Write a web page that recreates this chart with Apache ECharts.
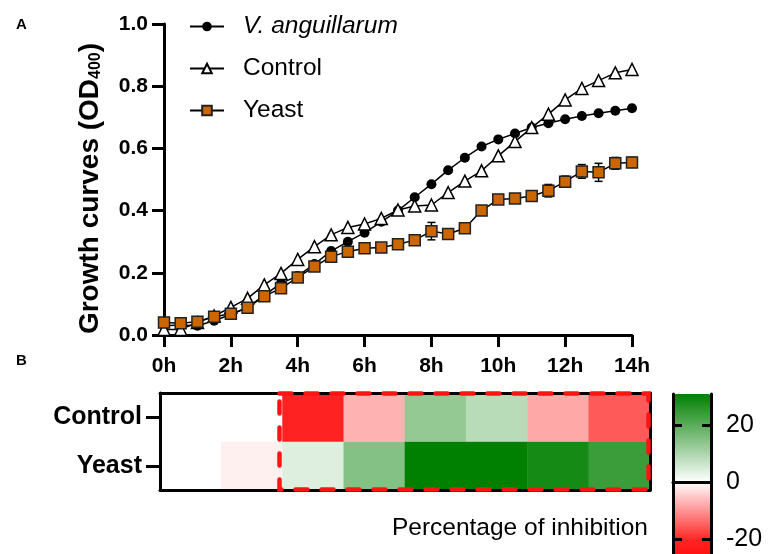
<!DOCTYPE html>
<html>
<head>
<meta charset="utf-8">
<script src="https://cdn.jsdelivr.net/npm/echarts@6/dist/echarts.min.js"></script>
<style>
html,body{margin:0;padding:0;background:#fff;}
#chart{width:768px;height:554px;}
</style>
</head>
<body>
<div id="chart"></div>
<script>
// ---- Data ----
var hours = [0,0.5,1,1.5,2,2.5,3,3.5,4,4.5,5,5.5,6,6.5,7,7.5,8,8.5,9,9.5,10,10.5,11,11.5,12,12.5,13,13.5,14];
var vAnguillarum = [0.030,0.032,0.030,0.046,0.066,0.088,0.128,0.166,0.190,0.228,0.270,0.300,0.329,0.364,0.400,0.443,0.485,0.530,0.570,0.606,0.629,0.648,0.667,0.681,0.694,0.704,0.713,0.721,0.729];
var control = [0.018,0.018,0.040,0.061,0.089,0.118,0.161,0.198,0.243,0.284,0.322,0.346,0.357,0.375,0.402,0.415,0.418,0.458,0.495,0.528,0.576,0.622,0.667,0.710,0.756,0.793,0.818,0.843,0.854];
var yeast = [0.040,0.038,0.043,0.059,0.068,0.088,0.125,0.150,0.185,0.220,0.252,0.268,0.279,0.281,0.292,0.305,0.334,0.325,0.343,0.400,0.436,0.439,0.447,0.464,0.493,0.526,0.523,0.552,0.555];
var yeastErr = [0.004,0.004,0.004,0.004,0.004,0.004,0.004,0.004,0.004,0.004,0.004,0.004,0.004,0.004,0.004,0.004,0.028,0.014,0.006,0.004,0.004,0.004,0.004,0.020,0.018,0.022,0.029,0.019,0.016];
var yTicks = [0,0.2,0.4,0.6,0.8,1.0];
var xTickLabels = ['0h','2h','4h','6h','8h','10h','12h','14h'];

var heatCols = ['0h','2h','4h','6h','8h','10h','12h','14h'];
var heatRows = ['Yeast','Control'];
var controlInhibition = [0,0,-21,-7.2,13.0,8.6,-8.2,-15.5];
var yeastInhibition = [0,-1.4,3.9,14.9,31,31,28.5,23.9];
var colorTicks = [-20,0,20];

// ---- Build ----
function pairs(xs, ys){ return xs.map(function(x,i){ return [x, ys[i]]; }); }
var heatData = [];
heatCols.forEach(function(c,i){
  heatData.push([i, 0, yeastInhibition[i]]);
  heatData.push([i, 1, controlInhibition[i]]);
});
var errData = hours.map(function(h,i){ return [h, yeast[i], yeastErr[i]]; });

var FONT = 'Liberation Sans, Arial, Helvetica, sans-serif';
var chart = echarts.init(document.getElementById('chart'), null, {renderer:'canvas'});

var option = {
  animation: false,
  textStyle: {fontFamily: FONT, color: '#000'},
  legend: {
    data: ['V. anguillarum','Control','Yeast'],
    orient: 'vertical',
    left: 189, top: 14,
    padding: 0,
    itemWidth: 34, itemHeight: 12, itemGap: 17,
    textStyle: {fontFamily: FONT, fontSize: 24.5, color: '#000', padding:[0,0,0,14],
      rich: {it: {fontFamily: FONT, fontSize: 24.5, fontStyle: 'italic', color:'#000'}}},
    formatter: function(n){ return n === 'V. anguillarum' ? '{it|' + n + '}' : n; }
  },
  grid: [
    {left: 164, right: 136, top: 24, bottom: 219, outerBoundsMode: 'none'},
    {left: 160, right: 118, top: 393, bottom: 64, outerBoundsMode: 'none'},
    {left: 673, right: 57, top: 394, height: 176, outerBoundsMode: 'none'}
  ],
  xAxis: [
    {gridIndex: 0, type: 'value', min: 0, max: 14, interval: 2,
     axisLine: {lineStyle: {color:'#000', width: 3}},
     axisTick: {length: 12, lineStyle: {color:'#000', width: 3}},
     axisLabel: {margin: 21, fontSize: 21, fontWeight: 'bold', color:'#000', fontFamily: FONT,
       formatter: function(v){ return xTickLabels[Math.round(v/2)]; }},
     splitLine: {show: false}},
    {gridIndex: 1, type: 'category', data: heatCols, position: 'bottom', z: 5,
     axisLine: {lineStyle: {color:'#000', width: 3}},
     axisTick: {show: false}, axisLabel: {show: false}, splitLine:{show:false}},
    {gridIndex: 1, type: 'category', data: heatCols, position: 'top', z: 5,
     axisLine: {lineStyle: {color:'#000', width: 3}},
     axisTick: {show: false}, axisLabel: {show: false}},
    {gridIndex: 2, type: 'value', min: 0, max: 1, position: 'top', z: 6,
     axisLine: {lineStyle: {color:'#000', width: 3}},
     axisTick: {show: false}, axisLabel: {show: false}, splitLine:{show:false}}
  ],
  yAxis: [
    {gridIndex: 0, type: 'value', min: 0, max: 1, interval: 0.2,
     axisLine: {show: true, lineStyle: {color:'#000', width: 3}},
     axisTick: {show: true, length: 12, lineStyle: {color:'#000', width: 3}},
     axisLabel: {margin: 16, fontSize: 21, fontWeight: 'bold', color:'#000', fontFamily: FONT,
       formatter: function(v){ return v.toFixed(1); }},
     splitLine: {show: false},
     name: 'Growth curves (OD{sub|400})',
     nameLocation: 'middle', nameRotate: 90, nameGap: 60,
     nameTextStyle: {fontSize: 28, fontWeight: 'bold', color: '#000', fontFamily: FONT, padding: [0, 18, 0, 0],
       rich: {sub: {fontSize: 16, fontWeight: 'bold', color:'#000', fontFamily: FONT, verticalAlign: 'bottom', padding:[9,0,0,0]}}}},
    {gridIndex: 1, type: 'category', data: heatRows, position: 'left', z: 5,
     axisLine: {show: true, lineStyle: {color:'#000', width: 3}},
     axisTick: {show: true, alignWithLabel: true, length: 14, lineStyle: {color:'#000', width: 3}},
     axisLabel: {margin: 18, fontSize: 25, fontWeight: 'bold', color:'#000', fontFamily: FONT}},
    {gridIndex: 1, type: 'category', data: heatRows, position: 'right', z: 5,
     axisLine: {show: true, lineStyle: {color:'#000', width: 3}},
     axisTick: {show: false}, axisLabel: {show: false}},
    {gridIndex: 2, type: 'value', min: -31, max: 31, position: 'left', z: 6,
     axisLine: {show: true, lineStyle: {color:'#000', width: 3}},
     axisTick: {show: true, inside: true, length: 9, customValues: colorTicks, lineStyle: {color:'#000', width: 3}},
     axisLabel: {show: false}, splitLine: {show: false}},
    {gridIndex: 2, type: 'value', min: -31, max: 31, position: 'right', z: 6,
     axisLine: {show: true, lineStyle: {color:'#000', width: 3}},
     axisTick: {show: true, inside: true, length: 9, customValues: colorTicks, lineStyle: {color:'#000', width: 3}},
     axisLabel: {show: true, customValues: colorTicks, margin: 15, fontSize: 25, color:'#000', fontFamily: FONT},
     splitLine: {show: false}}
  ],
  visualMap: {
    type: 'continuous', min: -31, max: 31, seriesIndex: 4,
    calculable: false, orient: 'vertical', left: 673, top: 394,
    itemWidth: 38, itemHeight: 176, padding: 0, hoverLink: false,
    inRange: {color: ['#ff0000','#ff2323','#ff9191','#ffffff','#aad4aa','#55aa55','#008000']}
  },
  series: [
    {name: 'V. anguillarum', type: 'line', xAxisIndex: 0, yAxisIndex: 0, z: 2,
     data: pairs(hours, vAnguillarum), symbol: 'circle', symbolSize: 10,
     lineStyle: {color:'#000', width: 1.5}, itemStyle: {color:'#000'}},
    {name: 'Control', type: 'line', xAxisIndex: 0, yAxisIndex: 0, z: 3,
     data: pairs(hours, control), symbol: 'triangle', symbolSize: 12, showAllSymbol: true,
     lineStyle: {color:'#000', width: 1.5}, itemStyle: {color:'#fff', borderColor:'#000', borderWidth: 1.5}},
    {name: 'YeastErr', type: 'custom', xAxisIndex: 0, yAxisIndex: 0, z: 4,
     data: errData, encode: {x: 0, y: 1},
     renderItem: function(params, api){
       var x = api.value(0), y = api.value(1), e = api.value(2);
       var hi = api.coord([x, y + e]), lo = api.coord([x, y - e]);
       var st = {stroke:'#000', lineWidth: 1.5};
       return {type:'group', children:[
         {type:'line', shape:{x1:hi[0], y1:hi[1], x2:lo[0], y2:lo[1]}, style: st},
         {type:'line', shape:{x1:hi[0]-4, y1:hi[1], x2:hi[0]+4, y2:hi[1]}, style: st},
         {type:'line', shape:{x1:lo[0]-4, y1:lo[1], x2:lo[0]+4, y2:lo[1]}, style: st}
       ]};
     }},
    {name: 'Yeast', type: 'line', xAxisIndex: 0, yAxisIndex: 0, z: 5,
     data: pairs(hours, yeast), symbol: 'rect', symbolSize: 11, showAllSymbol: true,
     lineStyle: {color:'#000', width: 1.5}, itemStyle: {color:'#cc6600', borderColor:'#222', borderWidth: 1.5}},
    {name: 'Inhibition', type: 'heatmap', xAxisIndex: 1, yAxisIndex: 1, z: 2,
     data: heatData, emphasis: {disabled: true}}
  ],
  graphic: [
    {type:'text', left: 16, top: 17, style: {text:'A', font: 'bold 15px ' + FONT, fill:'#000'}},
    {type:'text', left: 16, top: 353, style: {text:'B', font: 'bold 15px ' + FONT, fill:'#000'}},
    {type:'text', right: 120, top: 516, style: {text:'Percentage of inhibition', font: '24.5px ' + FONT, fill:'#000'}}
  ]
};
chart.setOption(option);

// dashed highlight box around 4h..14h columns (computed from axes)
var bw = chart.convertToPixel({xAxisIndex: 1}, '6h') - chart.convertToPixel({xAxisIndex: 1}, '4h');
var bh = chart.convertToPixel({yAxisIndex: 1}, 'Yeast') - chart.convertToPixel({yAxisIndex: 1}, 'Control');
var xL = chart.convertToPixel({xAxisIndex: 1}, '4h') - bw/2 - 3;
var xR = chart.convertToPixel({xAxisIndex: 1}, '14h') + bw/2 - 1.5;
var yT = chart.convertToPixel({yAxisIndex: 1}, 'Control') - bh/2 + 0.5;
var yB = chart.convertToPixel({yAxisIndex: 1}, 'Yeast') + bh/2 - 0.5;
option.graphic.push({type:'rect', z: 100, shape: {x: xL, y: yT, width: xR - xL, height: yB - yT},
  style: {fill: 'none', stroke: '#ff1414', lineWidth: 4.5, lineDash: [12, 14], lineCap: 'round'}});
chart.setOption({graphic: option.graphic});
</script>
</body>
</html>
